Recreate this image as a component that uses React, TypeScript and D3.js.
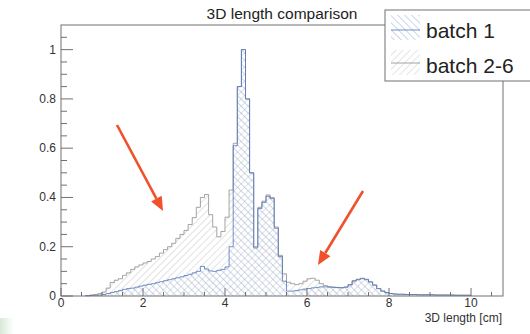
import React from "react";
import * as d3 from "d3";

// Histogram binning: uniform 0.1 cm bins, first bin starts at 0.6 cm
const BIN_START = 0.6;
const BIN_WIDTH = 0.1;

// Normalised counts per bin
const batch26 = [
  0.002, 0.004, 0.006, 0.010, 0.016, 0.032, 0.055, 0.064, 0.070, 0.084,
  0.094, 0.108, 0.118, 0.126, 0.134, 0.140, 0.150, 0.160, 0.174, 0.188,
  0.200, 0.214, 0.234, 0.250, 0.266, 0.290, 0.318, 0.360, 0.400, 0.412,
  0.330, 0.280, 0.240, 0.262, 0.320, 0.430, 0.620, 0.850, 1.000, 0.800,
  0.500, 0.200, 0.360, 0.385, 0.410, 0.400, 0.280, 0.165, 0.090, 0.056,
  0.050, 0.046, 0.050, 0.060, 0.070, 0.072, 0.064, 0.050, 0.042, 0.038,
  0.036, 0.035, 0.034, 0.036, 0.045, 0.060, 0.066, 0.070, 0.066, 0.056,
  0.045, 0.030, 0.020, 0.013, 0.010, 0.008, 0.007, 0.007, 0.006, 0.006,
  0.006, 0.005, 0.005, 0.005, 0.005, 0.004, 0.004, 0.004, 0.004, 0.004,
  0.003, 0.003, 0.003, 0.003,
];

const batch1 = [
  0.001, 0.002, 0.003, 0.004, 0.006, 0.010, 0.014, 0.018, 0.022, 0.027,
  0.030, 0.032, 0.036, 0.040, 0.044, 0.047, 0.050, 0.054, 0.058, 0.062,
  0.066, 0.070, 0.074, 0.078, 0.083, 0.088, 0.094, 0.100, 0.120, 0.110,
  0.102, 0.100, 0.104, 0.108, 0.118, 0.200, 0.610, 0.850, 1.000, 0.800,
  0.500, 0.195, 0.355, 0.380, 0.405, 0.395, 0.275, 0.160, 0.060, 0.020,
  0.020, 0.022, 0.025, 0.028, 0.030, 0.033, 0.035, 0.037, 0.037, 0.036,
  0.035, 0.034, 0.033, 0.036, 0.046, 0.062, 0.068, 0.072, 0.068, 0.058,
  0.044, 0.030, 0.020, 0.014, 0.010, 0.008, 0.007, 0.007, 0.006, 0.006,
  0.006, 0.005, 0.005, 0.005, 0.005, 0.004, 0.004, 0.004, 0.004, 0.004,
  0.003, 0.003, 0.003, 0.003,
];

const xMajorTicks = [0, 2, 4, 6, 8, 10];
const yMajorTicks = [0, 0.2, 0.4, 0.6, 0.8, 1];
const yTickLabels = ["0", "0.2", "0.4", "0.6", "0.8", "1"];
const legendLabels = ["batch 1", "batch 2-6"];

const TITLE = "3D length comparison";
const X_TITLE = "3D length [cm]";

const FONT = "'Liberation Sans', Arial, Helvetica, sans-serif";

const frame = { left: 61, top: 25, right: 503, bottom: 296 };

const x = d3.scaleLinear().domain([0, 10.78]).range([frame.left, frame.right]);
const y = d3.scaleLinear().domain([0, 1.1]).range([frame.bottom, frame.top]);

function stepPath(values: number[]): string {
  const pts: [number, number][] = [];
  pts.push([BIN_START, 0]);
  values.forEach((v, i) => {
    const lo = BIN_START + i * BIN_WIDTH;
    pts.push([lo, v]);
    pts.push([lo + BIN_WIDTH, v]);
  });
  pts.push([BIN_START + values.length * BIN_WIDTH, 0]);
  const line = d3
    .line<[number, number]>()
    .x((d) => x(d[0]))
    .y((d) => y(d[1]));
  return line(pts) || "";
}

const xMinorTicks = d3.range(0, 10.6, 0.5).filter((t) => !xMajorTicks.includes(t));
const yMinorTicks = d3.range(0, 1.1, 0.05).map((t) => +t.toFixed(2)).filter(
  (t) => !yMajorTicks.some((m) => Math.abs(m - t) < 1e-6)
);

const GRAY_LINE = "#8e8e8e";
const GRAY_HATCH = "#c8c8c8";
const BLUE_LINE = "#5275b8";
const BLUE_HATCH = "#94aad4";
const AXIS = "#707070";
const ARROW = "#f0502a";

function Arrow({ x1, y1, x2, y2 }: { x1: number; y1: number; x2: number; y2: number }) {
  const ang = Math.atan2(y2 - y1, x2 - x1);
  const len = 14;
  const half = 6;
  const bx = x2 - len * Math.cos(ang);
  const by = y2 - len * Math.sin(ang);
  const px = -Math.sin(ang) * half;
  const py = Math.cos(ang) * half;
  return (
    <g>
      <line x1={x1} y1={y1} x2={bx} y2={by} stroke={ARROW} strokeWidth={2.6} />
      <polygon
        points={`${x2},${y2} ${bx + px},${by + py} ${bx - px},${by - py}`}
        fill={ARROW}
      />
    </g>
  );
}

export default function App() {
  const grayPath = stepPath(batch26);
  const bluePath = stepPath(batch1);
  return (
    <svg
      width={530}
      height={334}
      viewBox="0 0 530 334"
      style={{ position: "absolute", left: 0, top: 0, background: "#fff" }}
      fontFamily={FONT}
    >
      <defs>
        <pattern id="hatchGray" width="5" height="5" patternUnits="userSpaceOnUse" patternTransform="rotate(45)">
          <line x1="0" y1="0" x2="0" y2="5" stroke={GRAY_HATCH} strokeWidth="1" />
        </pattern>
        <pattern id="hatchBlue" width="5" height="5" patternUnits="userSpaceOnUse" patternTransform="rotate(-45)">
          <line x1="0" y1="0" x2="0" y2="5" stroke={BLUE_HATCH} strokeWidth="1" />
        </pattern>
        <linearGradient id="cornerGlow" x1="0" y1="0" x2="1" y2="0">
          <stop offset="0" stopColor="#d6ead6" />
          <stop offset="1" stopColor="#ffffff" />
        </linearGradient>
      </defs>

      <rect x={0} y={318} width={14} height={16} fill="url(#cornerGlow)" />

      {/* histograms */}
      <path d={grayPath} fill="url(#hatchGray)" stroke="none" />
      <path d={grayPath} fill="none" stroke={GRAY_LINE} strokeWidth={0.8} />
      <path d={bluePath} fill="url(#hatchBlue)" stroke="none" />
      <path d={bluePath} fill="none" stroke={BLUE_LINE} strokeWidth={0.8} />

      {/* frame */}
      <rect
        x={frame.left}
        y={frame.top}
        width={frame.right - frame.left}
        height={frame.bottom - frame.top}
        fill="none"
        stroke={AXIS}
        strokeWidth={1}
      />

      {/* x axis ticks */}
      {xMajorTicks.map((t) => (
        <g key={`xM${t}`}>
          <line x1={x(t)} x2={x(t)} y1={frame.bottom} y2={frame.bottom - 8} stroke={AXIS} />
          <text x={x(t)} y={307} fontSize={12} textAnchor="middle" fill="#333">
            {t}
          </text>
        </g>
      ))}
      {xMinorTicks.map((t) => (
        <line key={`xm${t}`} x1={x(t)} x2={x(t)} y1={frame.bottom} y2={frame.bottom - 4} stroke={AXIS} />
      ))}
      <text x={502} y={321.5} fontSize={12} textAnchor="end" fill="#333">
        {X_TITLE}
      </text>

      {/* y axis ticks */}
      {yMajorTicks.map((t, i) => (
        <g key={`yM${t}`}>
          <line x1={frame.left} x2={frame.left + 12} y1={y(t)} y2={y(t)} stroke={AXIS} />
          <text x={56} y={y(t) + 4} fontSize={12} textAnchor="end" fill="#333">
            {yTickLabels[i]}
          </text>
        </g>
      ))}
      {yMinorTicks.map((t) => (
        <line key={`ym${t}`} x1={frame.left} x2={frame.left + 6} y1={y(t)} y2={y(t)} stroke={AXIS} />
      ))}

      {/* title */}
      <text x={282} y={19} fontSize={15.5} textAnchor="middle" fill="#222">
        {TITLE}
      </text>

      {/* legend */}
      <rect x={385} y={10} width={160} height={71} fill="#fff" stroke={AXIS} strokeWidth={1} />
      <rect x={391} y={15} width={29} height={25} fill="url(#hatchBlue)" />
      <line x1={391} x2={420} y1={30} y2={30} stroke={BLUE_LINE} strokeWidth={0.8} />
      <text x={426} y={37.5} fontSize={21} fill="#222">
        {legendLabels[0]}
      </text>
      <rect x={391} y={50} width={29} height={25} fill="url(#hatchGray)" />
      <line x1={391} x2={420} y1={63} y2={63} stroke={GRAY_LINE} strokeWidth={0.8} />
      <text x={426} y={72.5} fontSize={21} fill="#222">
        {legendLabels[1]}
      </text>

      {/* annotation arrows */}
      <Arrow x1={117} y1={125} x2={163} y2={211} />
      <Arrow x1={363} y1={191} x2={318} y2={265} />
    </svg>
  );
}
